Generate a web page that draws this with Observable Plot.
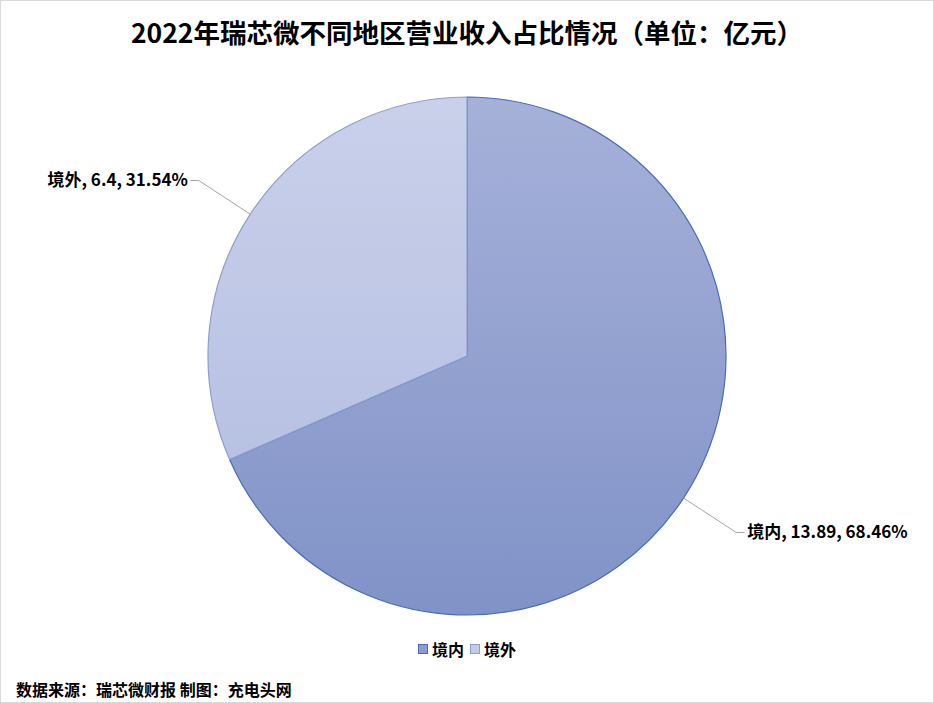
<!DOCTYPE html>
<html>
<head>
<meta charset="utf-8">
<script src="https://cdn.jsdelivr.net/npm/d3@7"></script>
<script src="https://cdn.jsdelivr.net/npm/@observablehq/plot@0.6"></script>
<style>
  html, body { margin: 0; padding: 0; background: #fff; }
  #wrap { box-sizing: border-box; width: 934px; height: 703px; border: 1px solid #d9d9d9; background: #fff; overflow: hidden;
          font-family: "Noto Sans CJK SC", "Noto Sans", sans-serif; color: #000; }
  #title { height: 61px; box-sizing: border-box; padding-top: 13px; text-align: center; font-size: 26.5px; font-weight: bold; line-height: 36px; }
  #chart svg { display: block; }
  #legend { height: 32px; display: flex; justify-content: center; align-items: center; font-size: 16px; font-weight: bold; gap: 0; }
  #legend .item { display: flex; align-items: center; margin: 0 3px; }
  #legend .sw { width: 10px; height: 10px; margin-right: 4px; box-sizing: border-box; }
  #caption { padding-left: 15px; padding-top: 13px; font-size: 16px; font-weight: bold; line-height: 22px; }
</style>
</head>
<body>
<div id="wrap">
  <div id="title">2022年瑞芯微不同地区营业收入占比情况（单位：亿元）</div>
  <div id="chart"></div>
  <div id="legend"></div>
  <div id="caption">数据来源：瑞芯微财报 制图：充电头网</div>
</div>
<script>
// ---- data ----
const regions = ["境内", "境外"];
const revenue = [13.89, 6.4];
const shares = ["68.46%", "31.54%"];
const revenueLabels = ["13.89", "6.4"];

// ---- styles ----
const gradTop = ["#a6b1d9", "#c9d0ea"];
const gradBottom = ["#8092c7", "#b0bbe0"];
const strokes = ["#4b6cb7", "#8e9dd0"];
const swatch = ["#8c9cce", "#c3cbe7"];

const W = 932, H = 571;
const R = 259;               // pie radius in px
const CX = 466, CY = 294;    // pie centre in svg px
const labelR = 1.24, hseg = 8 / R;

const arcs = d3.pie().sort(null).startAngle(0).endAngle(2 * Math.PI)(revenue);
const rows = arcs.map((a, i) => {
  const mid = (a.startAngle + a.endAngle) / 2;
  const s = Math.sin(mid), c = Math.cos(mid);
  const side = s >= 0 ? 1 : -1;
  return {
    name: regions[i], i, a, side,
    label: `${regions[i]}, ${revenueLabels[i]}, ${shares[i]}`,
    ex: s, ey: c,
    bx: labelR * s, by: labelR * c,
    tx: labelR * s + side * hseg, ty: labelR * c
  };
});
const leader = rows.flatMap(r => [
  {name: r.name, x: r.ex, y: r.ey},
  {name: r.name, x: r.bx, y: r.by},
  {name: r.name, x: r.tx, y: r.ty}
]);

function pieMark(index, scales) {
  const cx = scales.x(0), cy = scales.y(0), r = scales.x(1) - scales.x(0);
  const g = d3.create("svg:g");
  const defs = g.append("defs");
  rows.forEach(row => {
    const lg = defs.append("linearGradient").attr("id", "pg" + row.i)
      .attr("gradientUnits", "userSpaceOnUse")
      .attr("x1", 0).attr("x2", 0).attr("y1", -r).attr("y2", r);
    lg.append("stop").attr("offset", 0).attr("stop-color", gradTop[row.i]);
    lg.append("stop").attr("offset", 1).attr("stop-color", gradBottom[row.i]);
  });
  const arc = d3.arc().innerRadius(0).outerRadius(r);
  rows.forEach(row => {
    g.append("path")
      .attr("transform", `translate(${cx},${cy})`)
      .attr("d", arc(row.a))
      .attr("fill", `url(#pg${row.i})`)
      .attr("stroke", strokes[row.i])
      .attr("stroke-width", 1.2)
      .attr("stroke-linejoin", "round");
  });
  return g.node();
}

const labelStyle = {x: "tx", y: "ty", text: "label", fontSize: 17, fontWeight: "bold", fill: "#000",
  fontFamily: "'Noto Sans CJK SC', sans-serif"};

const plot = Plot.plot({
  width: W, height: H,
  margin: 0,
  x: {domain: [-CX / R, (W - CX) / R], axis: null},
  y: {domain: [-(H - CY) / R, CY / R], axis: null},
  marks: [
    pieMark,
    Plot.line(leader, {x: "x", y: "y", z: "name", stroke: "#a6a6a6", strokeWidth: 1}),
    Plot.text(rows.filter(d => d.side > 0), {...labelStyle, textAnchor: "start", dx: 3}),
    Plot.text(rows.filter(d => d.side < 0), {...labelStyle, textAnchor: "end", dx: -3})
  ]
});
document.getElementById("chart").appendChild(plot);

const legend = d3.select("#legend");
regions.forEach((name, i) => {
  const it = legend.append("div").attr("class", "item");
  it.append("div").attr("class", "sw").style("background", swatch[i]).style("border", `1px solid ${strokes[i]}`);
  it.append("span").text(name);
});
</script>
</body>
</html>
